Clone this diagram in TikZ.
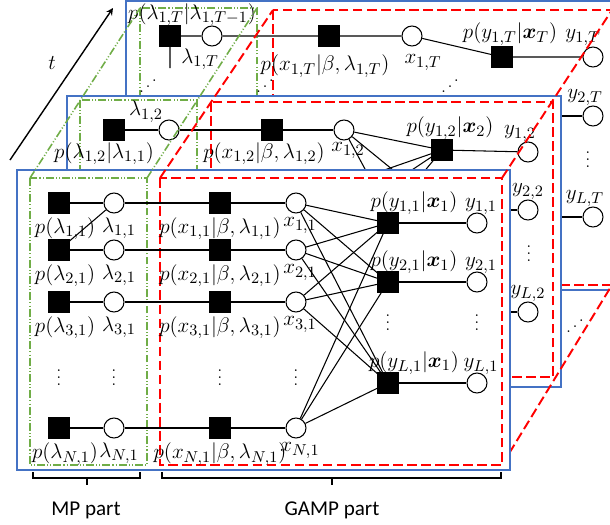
\documentclass[tikz,border=0pt]{standalone}
\usepackage{amsmath}
\usepackage{amssymb}
\usepackage{graphicx}
\usepackage{fontspec}
\newfontfamily\partfont{Carlito}
\usepackage{tikz}
\usetikzlibrary{arrows}
\definecolor{boxblue}{RGB}{68,114,196}
\definecolor{mpgreen}{RGB}{112,173,71}
\newcommand{\vdotsbox}{\raisebox{0pt}[9pt][0pt]{$\vdots$}}
\newcommand{\udotsbox}{\raisebox{0pt}[8pt][0pt]{\reflectbox{$\ddots$}}}

\begin{document}
\begin{tikzpicture}[x=0.02cm,y=-0.02cm,line width=0.6pt,
  fac/.style={draw,fill=black,minimum size=0.4cm,inner sep=0pt},
  var/.style={circle,draw,fill=white,minimum size=0.4cm,inner sep=0pt},
  lab/.style={font=\fontsize{12.5}{14}\selectfont,inner sep=1pt},
  vdot/.style={font=\fontsize{9}{10}\selectfont,inner sep=0pt},
  layerbox/.style={draw=boxblue,line width=1.7pt,fill=white},
  mp/.style={draw=mpgreen,line width=0.9pt,dash pattern=on 4.5pt off 1.2pt on 0.6pt off 1.2pt on 0.6pt off 1.2pt},
  gamp/.style={draw=red,line width=1.1pt,dash pattern=on 5.5pt off 2.5pt}]
        \clip (0,0) rectangle (610,525);
        \draw[layerbox] (126,1) rectangle (625,290);
        \draw[mp] (140,8) rectangle (257,280);
        \draw[gamp] (273,10) rectangle (612,285);
        \node[fac,label={[lab,xshift=0.44cm,yshift=-0.05cm]above:$p(\lambda_{1,T}|\lambda_{1,T-1})$}] (plT) at (170,36) {};
        \node[var,label={[lab,xshift=-0.24cm]below:$\lambda_{1,T}$}] (lT) at (212,36) {};
        \node[fac,label={[lab,xshift=-0.08cm,yshift=-0.12cm]below:$p(x_{1,T}|\beta,\lambda_{1,T})$}] (pxT) at (329,36) {};
        \node[var,label={[lab,xshift=0.22cm,yshift=-0.12cm]below:$x_{1,T}$}] (xT) at (412,36) {};
        \node[fac,label={[lab,xshift=0.16cm,yshift=-0.02cm]above:$p(y_{1,T}|\boldsymbol{x}_T)$}] (pyT) at (502,57) {};
        \node[var,label={[lab,xshift=-0.2cm,yshift=-0.02cm]above:$y_{1,T}$}] (yT) at (593,57) {};
        \node[var,label={[lab,xshift=-0.16cm,yshift=-0.04cm]above:$y_{2,T}$}] (y2T) at (593,116) {};
        \node[var,label={[lab,xshift=-0.16cm,yshift=-0.04cm]above:$y_{L,T}$}] (yLT) at (593,217) {};
        \coordinate (lTd) at (170,68);
        \coordinate (h2T) at (545,116);
        \coordinate (hLT) at (545,217);
        \draw (lTd) -- (plT) -- (lT) -- (pxT) -- (xT) -- (pyT) -- (yT);
        \draw (h2T) -- (y2T);
        \draw (hLT) -- (yLT);
        \node[vdot] (dT) at (588,160) {\vdotsbox};
        \foreach \x in {148,265,450}
          \node[vdot] (dd\x) at (\x,87) {\udotsbox};
        \node[vdot] (ddL) at (575,327) {\udotsbox};

        \draw[layerbox] (67,96) rectangle (561,387);
        \draw[mp] (80,100) rectangle (197,380);
        \draw[gamp] (211,102) rectangle (553,377);
        \node[fac,label={[lab,xshift=-0.2cm]below:$p(\lambda_{1,2}|\lambda_{1,1})$}] (pl2) at (114,130) {};
        \node[var,label={[lab,xshift=-0.46cm,yshift=-0.1cm]above:$\lambda_{1,2}$}] (l2) at (169,130) {};
        \node[fac,label={[lab,xshift=-0.16cm]below:$p(x_{1,2}|\beta,\lambda_{1,2})$}] (px2) at (272,130) {};
        \node[var,label={[lab,xshift=0.08cm]below:$x_{1,2}$}] (x2) at (344,130) {};
        \node[fac,label={[lab,xshift=0.16cm,yshift=-0.04cm]above:$p(y_{1,2}|\boldsymbol{x}_2)$}] (py12) at (442,150) {};
        \node[var,label={[lab,xshift=-0.16cm,yshift=-0.04cm]above:$y_{1,2}$}] (y12) at (528,152) {};
        \node[var,label={[lab,yshift=-0.04cm]above:$y_{2,2}$}] (y22) at (528,210) {};
        \node[var,label={[lab,yshift=-0.04cm]above:$y_{L,2}$}] (yL2) at (528,312) {};
        \coordinate (py22) at (442,210);
        \coordinate (pyL2) at (442,312);
        \coordinate (hx22) at (344,184);
        \coordinate (hx32) at (344,215);
        \coordinate (hxN2) at (344,268);
        \draw (pl2) -- (l2) -- (px2) -- (x2);
        \foreach \a in {x2,hx22,hx32,hxN2}
        \foreach \b in {py12,py22,pyL2}
        {
          \draw (\a) -- (\b);
        }
        \draw (py12) -- (y12);
        \draw (py22) -- (y22);
        \draw (pyL2) -- (yL2);
        \node[vdot] (d2) at (529,254) {\vdotsbox};
        \draw[gamp] (502,465) -- (612,285);

        \draw[layerbox] (17,170) rectangle (510,470);
        \draw[mp] (30,178) rectangle (147,465);
        \draw[gamp] (160,178) rectangle (502,465);
        \foreach \i/\y in {1/203,2/250,3/302,N/428}
        {
          \node[fac,label={[lab,xshift=0.12cm,yshift=-0.04cm]below:$p(\lambda_{\i,1})$}] (pl\i) at (59,\y) {};
          \node[var,label={[lab,xshift=0.1cm,yshift=-0.04cm]below:$\lambda_{\i,1}$}] (l\i) at (114,\y) {};
          \node[fac,label={[lab,yshift=-0.04cm]below:$p(x_{\i,1}|\beta,\lambda_{\i,1})$}] (px\i) at (220,\y) {};
          \node[var,label={[lab,xshift=0.08cm,yshift=-0.04cm]below:$x_{\i,1}$}] (x\i) at (296,\y) {};
          \draw (pl\i) -- (l\i) -- (px\i) -- (x\i);
        }
        \foreach \j/\y in {1/223,2/282,L/383}
        {
          \node[fac,label={[lab,xshift=0.52cm,yshift=-0.08cm]above:$p(y_{\j,1}|\boldsymbol{x}_1)$}] (py\j) at (388,\y) {};
          \node[var,label={[lab,xshift=0.08cm,yshift=-0.08cm]above:$y_{\j,1}$}] (y\j) at (477,\y) {};
          \draw (py\j) -- (y\j);
          \foreach \i in {1,2,3,N}
            \draw (x\i) -- (py\j);
        }
        \foreach \x in {59,114,220,296}
          \node[vdot] (d\x) at (\x,378) {\vdotsbox};
        \foreach \x in {388,477}
          \node[vdot] (e\x) at (\x,323) {\vdotsbox};
        \draw (pl2) -- (l1);

        \draw[mp] (30,178) -- (140,8);
        \draw[mp] (147,178) -- (257,8);
        \draw[gamp] (160,178) -- (273,10);
        \draw[gamp] (502,178) -- (612,10);

        \draw[->,>=stealth,line width=0.8pt] (10,160) -- (113,8);
        \node[lab] (tlab) at (52,63) {$t$};
        \draw[line width=0.8pt] (33,472) -- (33,478) -- (140,478) -- (140,472);
        \draw[line width=0.8pt] (87,478) -- (87,485);
        \draw[line width=0.8pt] (162,472) -- (162,478) -- (501,478) -- (501,472);
        \draw[line width=0.8pt] (332,478) -- (332,485);
        \node[font=\partfont\fontsize{12}{14}\selectfont] (mplab) at (86,510) {MP part};
        \node[font=\partfont\fontsize{12}{14}\selectfont] (gamplab) at (332,510) {GAMP part};
      \end{tikzpicture}
\end{document}
